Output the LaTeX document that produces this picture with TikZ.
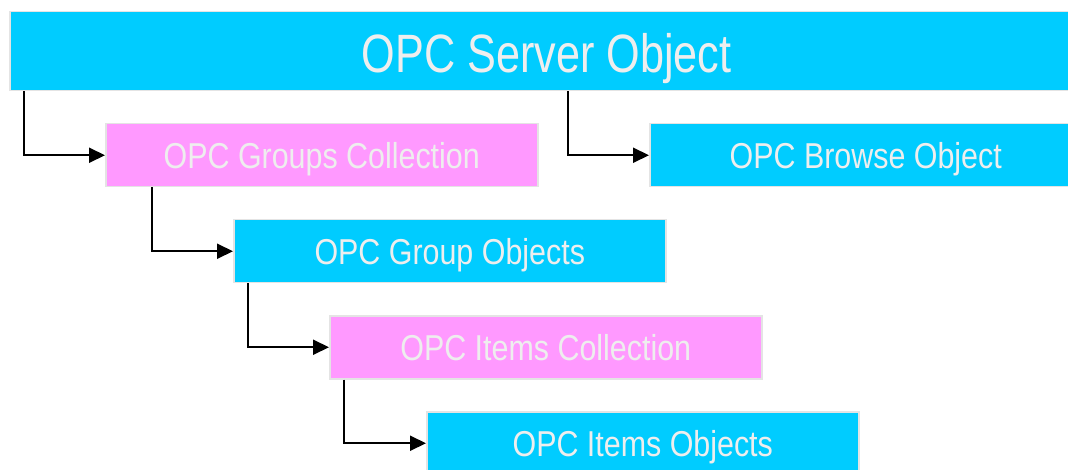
\documentclass[tikz,border=0pt]{standalone}
\usepackage{fontspec}
\setmainfont{Liberation Sans}
\usetikzlibrary{arrows.meta}
\definecolor{boxcyan}{HTML}{00CCFF}
\definecolor{boxpink}{HTML}{FF99FF}
\definecolor{txtgray}{HTML}{EEEEEE}
\definecolor{edgegray}{HTML}{E4E4E4}
\newcommand{\nar}[2][0.845]{\scalebox{#1}[1]{#2}}
\tikzset{
  box/.style={draw=edgegray, line width=1.5pt, minimum width=432pt, minimum height=63pt,
    inner sep=0pt, anchor=north west, text=txtgray, font=\fontsize{36}{40}\selectfont,
    text height=26pt, text depth=0pt},
  cbox/.style={box, fill=boxcyan},
  pbox/.style={box, fill=boxpink},
  arr/.style={line width=2pt, -{Triangle[length=16pt,width=15pt]}}
}
\begin{document}
\begin{tikzpicture}[x=1pt,y=-1pt]
\useasboundingbox (0,0) rectangle (1068,470);
\clip (0,0) rectangle (1068,470);
\fill[white] (0,0) rectangle (1068,470);
\node[cbox, minimum width=1074pt, minimum height=79pt, font=\fontsize{54}{60}\selectfont, text height=43pt] (server) at (9,11) {\nar[0.8]{OPC Server Object}};
\node[pbox] (groups) at (105,123) {\nar{OPC Groups Collection}};
\node[cbox] (browse) at (649,123) {\nar{OPC Browse Object}};
\node[cbox] (group) at (233,219) {\nar{OPC Group Objects}};
\node[pbox] (items) at (329,315) {\nar{OPC Items Collection}};
\node[cbox] (itemobj) at (426,411) {\nar{OPC Items Objects}};
\draw[arr] ([xshift=15pt]server.south west) |- (groups.west);
\draw[arr] ([xshift=559pt]server.south west) |- (browse.west);
\draw[arr] ([xshift=47pt]groups.south west) |- (group.west);
\draw[arr] ([xshift=15pt]group.south west) |- (items.west);
\draw[arr] ([xshift=15pt]items.south west) |- (itemobj.west);
\end{tikzpicture}
\end{document}
